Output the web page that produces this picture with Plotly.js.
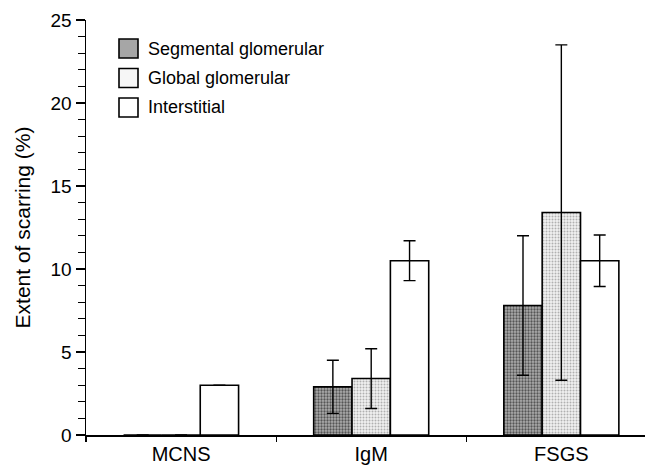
<!DOCTYPE html>
<html>
<head>
<meta charset="utf-8">
<script src="https://cdn.plot.ly/plotly-3.0.1.min.js"></script>
<style>html,body{margin:0;padding:0;background:#fff;}#chart{width:645px;height:467px;}</style>
</head>
<body>
<div id="chart"></div>
<script>
const categories = ["MCNS", "IgM", "FSGS"];
const seriesNames = ["Segmental glomerular", "Global glomerular", "Interstitial"];
const segmental = [0, 2.9, 7.8];
const segmentalErr = [null, 1.6, 4.2];
const globalGlom = [0, 3.4, 13.4];
const globalErr = [null, 1.8, 10.1];
const interstitial = [3.0, 10.5, 10.5];
const interstitialErr = [null, 1.2, 1.55];
const yTickVals = [0, 5, 10, 15, 20, 25];

const font = "Liberation Sans, Arial, Helvetica, sans-serif";
const legendFill = ["#a6a6a6", "#f6f6f6", "#ffffff"];

function mk(name, y, err, pattern, color) {
  const t = {
    type: "bar", name: name, x: categories, y: y, showlegend: false,
    marker: { color: color, line: { color: "#000", width: 1.6 } },
    error_y: { type: "data", array: err, visible: true, color: "#000", thickness: 1.4, width: 6 },
    hoverinfo: "none"
  };
  if (pattern) t.marker.pattern = pattern;
  return t;
}

const data = [
  mk(seriesNames[0], segmental, segmentalErr, { shape: ".", fgcolor: "#555", bgcolor: "#adadad", size: 3, solidity: 0.45 }, "#999"),
  mk(seriesNames[1], globalGlom, globalErr, { shape: ".", fgcolor: "#b0b0b0", bgcolor: "#f2f2f2", size: 3, solidity: 0.35 }, "#ddd"),
  mk(seriesNames[2], interstitial, interstitialErr, null, "#fff")
];

// manual legend (paper coordinates) built from the series names
const plotL = 86, plotW = 559, plotB = 435, plotH = 415;
const px = v => (v - plotL) / plotW;
const py = v => (plotB - v) / plotH;
const shapes = [], annotations = [];
seriesNames.forEach((n, i) => {
  const c = 48.5 + 29.5 * i;
  shapes.push({ type: "rect", xref: "paper", yref: "paper",
    x0: px(119), x1: px(138), y0: py(c + 9.5), y1: py(c - 9.5),
    fillcolor: legendFill[i], line: { color: "#000", width: 1.6 } });
  annotations.push({ xref: "paper", yref: "paper", x: px(146), y: py(c), xanchor: "left", yanchor: "middle",
    text: n, showarrow: false, font: { family: font, size: 18, color: "#000" } });
});

const layout = {
  width: 645, height: 467,
  margin: { l: 86, r: 0, t: 20, b: 32 },
  paper_bgcolor: "#fff", plot_bgcolor: "#fff",
  font: { family: font, color: "#000", size: 15 },
  barmode: "group", bargap: 0.395, bargroupgap: 0,
  showlegend: false,
  shapes: shapes, annotations: annotations,
  xaxis: {
    type: "category", range: [-0.5, 2.44], showgrid: false, zeroline: false,
    showline: true, linecolor: "#000", linewidth: 2,
    ticks: "outside", tickson: "boundaries", ticklen: 5, tickwidth: 1.2, tickcolor: "#000",
    tickfont: { family: font, size: 20, color: "#000" }
  },
  yaxis: {
    range: [0, 25], tickvals: yTickVals, showgrid: false, zeroline: false,
    showline: true, linecolor: "#000", linewidth: 1.5,
    ticks: "outside", ticklen: 9, tickwidth: 1.2, tickcolor: "#000",
    tickfont: { family: font, size: 19, color: "#000" },
    minor: { dtick: 1, ticks: "outside", ticklen: 7, tickwidth: 1, tickcolor: "#000", showgrid: false },
    title: { text: "Extent of scarring (%)", font: { family: font, size: 21, color: "#000" }, standoff: 14 }
  }
};

Plotly.newPlot("chart", data, layout, { staticPlot: true, displayModeBar: false });
</script>
</body>
</html>
